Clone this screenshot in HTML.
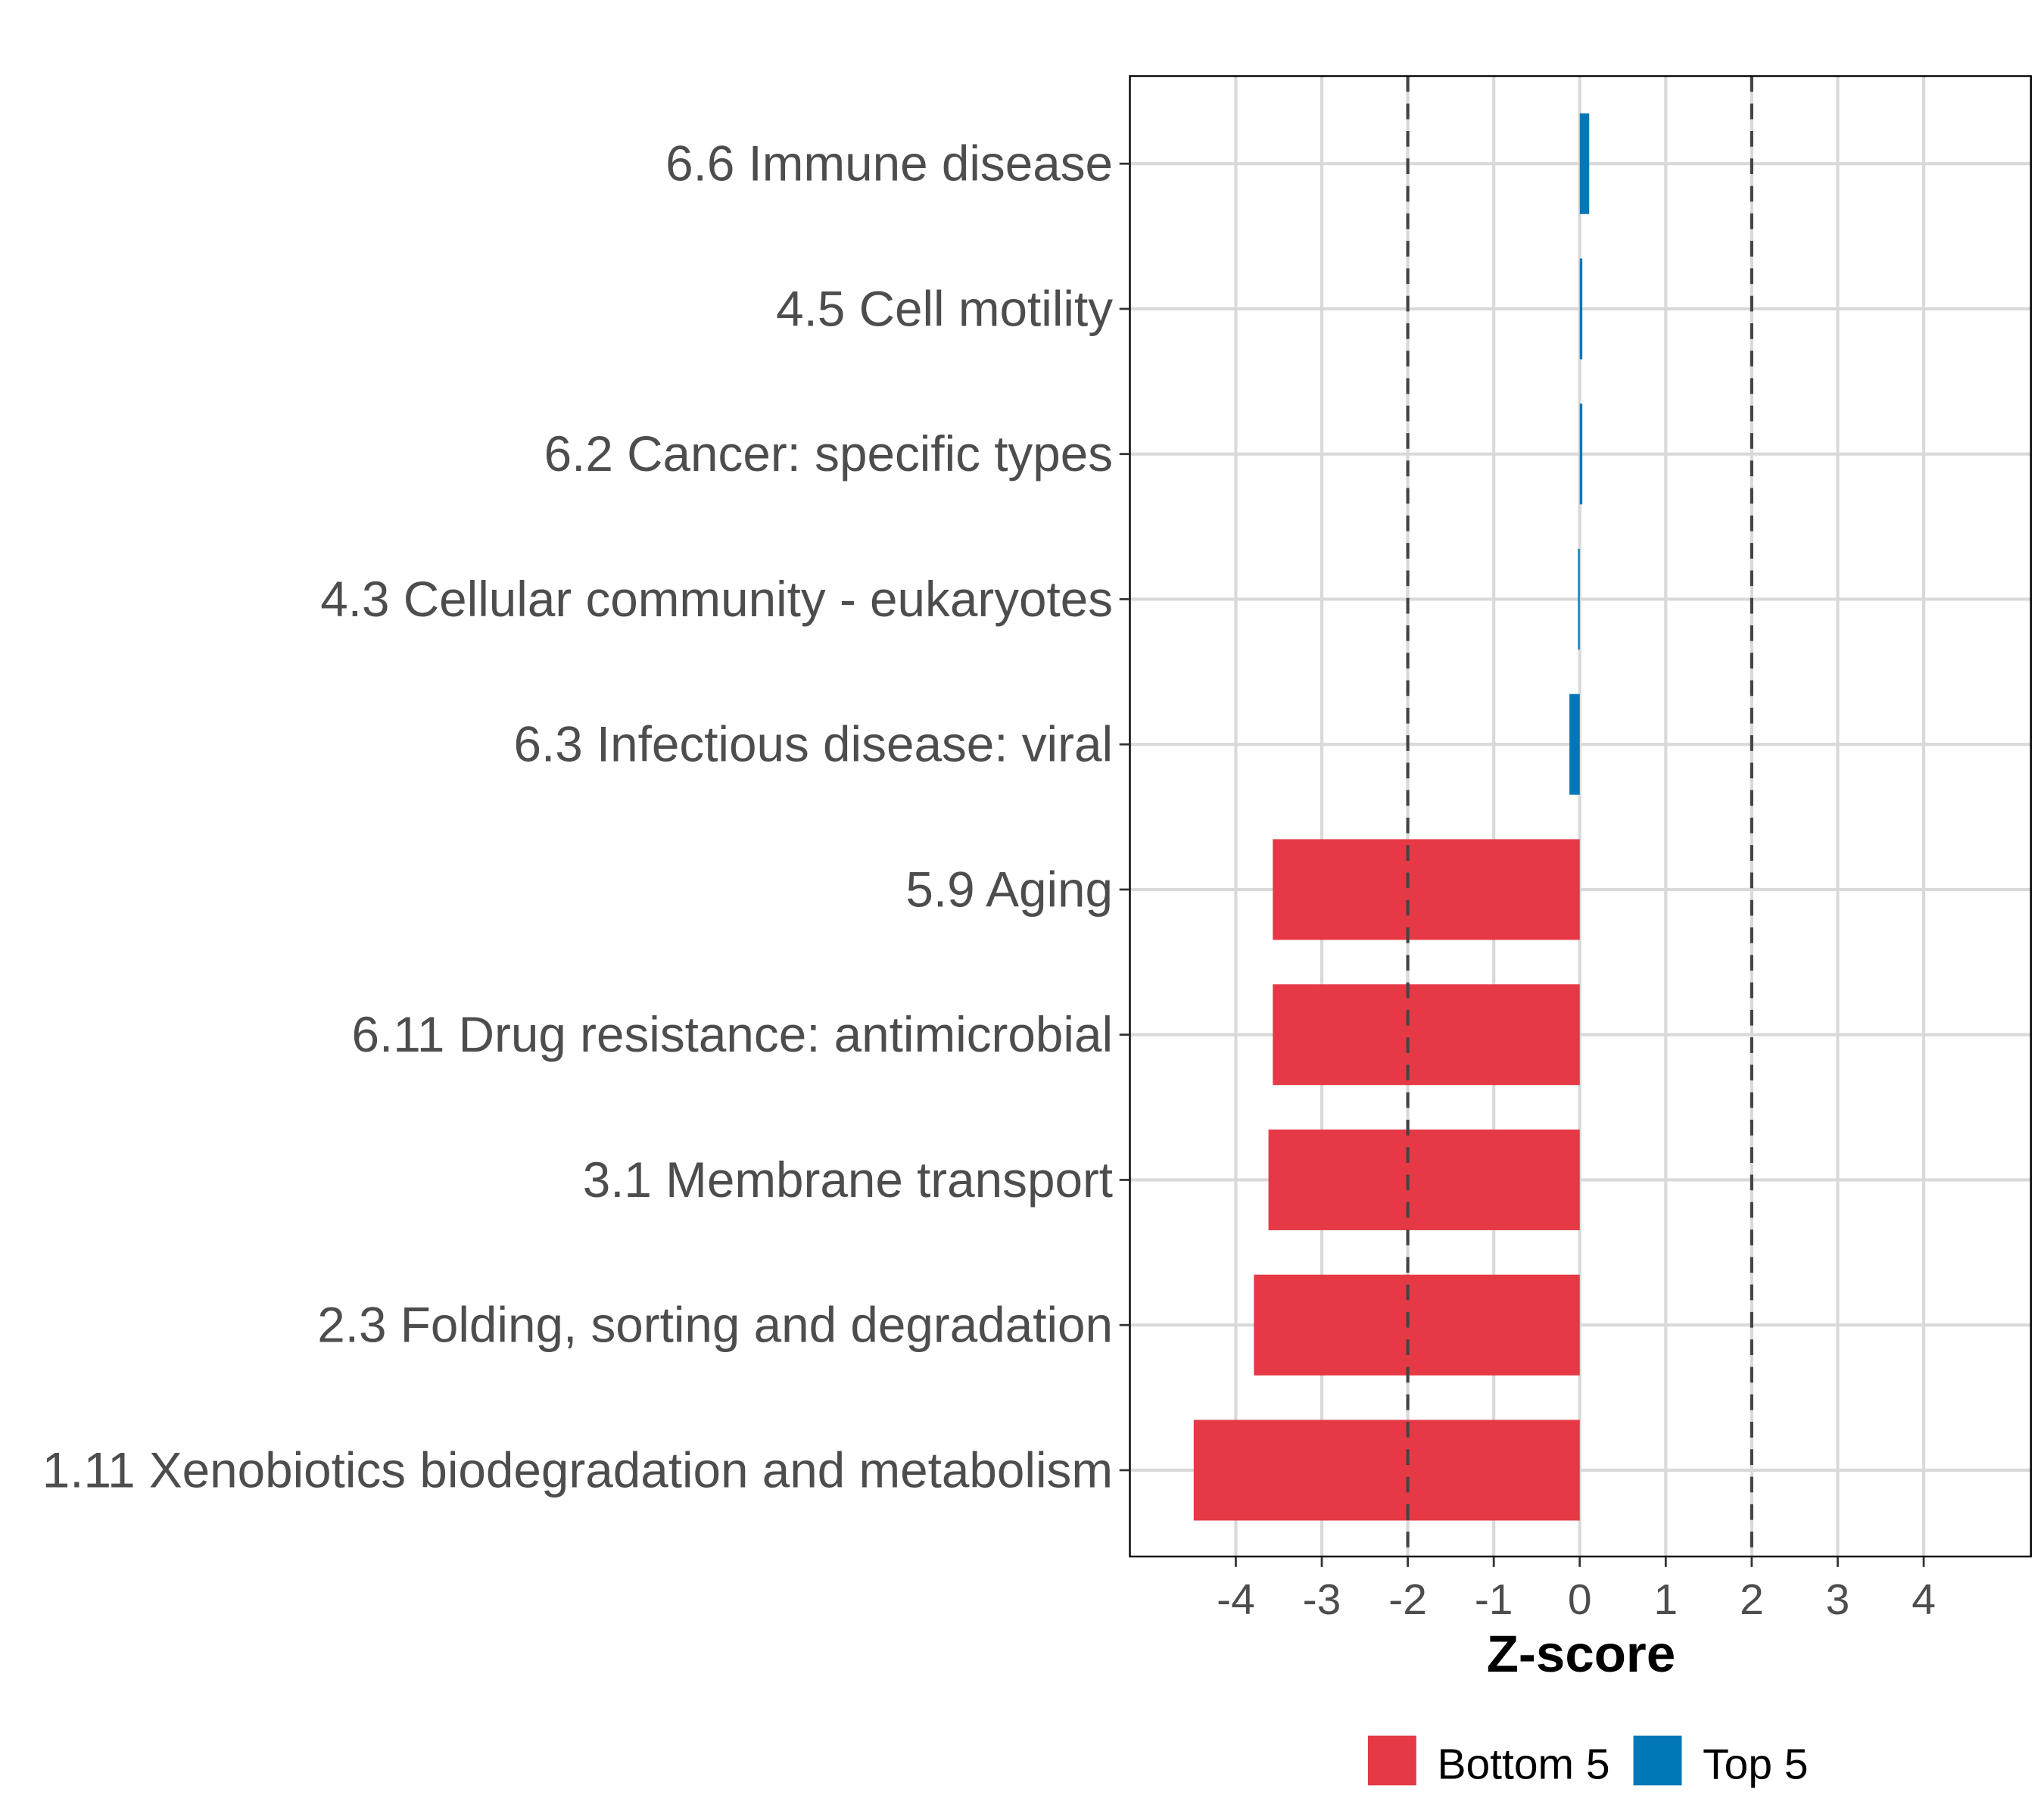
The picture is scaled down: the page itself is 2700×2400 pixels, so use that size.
<!DOCTYPE html>
<html><head><meta charset="utf-8">
<style>
html,body{margin:0;padding:0;background:#fff;}
svg{display:block;}
text{font-family:"Liberation Sans",Arial,sans-serif;}
</style></head>
<body>
<svg id="chart" width="2700" height="2400" viewBox="0 0 1563 1389" xmlns="http://www.w3.org/2000/svg">
<g id="grid"></g>
<g id="bars"></g>
<g id="refs"></g>
<g id="axes"></g>
<text x="1209" y="1278" text-anchor="middle" font-size="40" font-weight="bold" fill="#000">Z-score</text>
<g>
  <rect x="1046" y="1327" width="37" height="38" fill="#e63946"/>
  <text x="1099" y="1360" font-size="33" fill="#000">Bottom 5</text>
  <rect x="1249" y="1327" width="37" height="38" fill="#0077b6"/>
  <text x="1302" y="1360" font-size="33" fill="#000">Top 5</text>
</g>
</svg>
<script>
const categories = ["6.6 Immune disease","4.5 Cell motility","6.2 Cancer: specific types","4.3 Cellular community - eukaryotes","6.3 Infectious disease: viral","5.9 Aging","6.11 Drug resistance: antimicrobial","3.1 Membrane transport","2.3 Folding, sorting and degradation","1.11 Xenobiotics biodegradation and metabolism"];
const zscores = [0.11, 0.03, 0.03, -0.02, -0.12, -3.57, -3.57, -3.62, -3.79, -4.49];
const groups = ["Top 5","Top 5","Top 5","Top 5","Top 5","Bottom 5","Bottom 5","Bottom 5","Bottom 5","Bottom 5"];
const xTicks = [-4,-3,-2,-1,0,1,2,3,4];
const xTickLabels = ["-4","-3","-2","-1","0","1","2","3","4"];
const refLines = [-2, 2];

const NS="http://www.w3.org/2000/svg";
const P={l:864,r:1553,t:58,b:1190};
const X0=1208, UX=65.75;
const xs=v=>X0+v*UX;
const ROW0=125, ROWH=111;
const ys=i=>ROW0+i*ROWH;
const BARH=77;
const colors={"Top 5":"#0077b6","Bottom 5":"#e63946"};
function mk(tag,attrs,parent){const e=document.createElementNS(NS,tag);for(const k in attrs)e.setAttribute(k,attrs[k]);parent.appendChild(e);return e;}
const grid=document.getElementById('grid'),bars=document.getElementById('bars'),refs=document.getElementById('refs'),axes=document.getElementById('axes');
mk('rect',{x:P.l,y:P.t,width:P.r-P.l,height:P.b-P.t,fill:'#fff'},grid);
xTicks.forEach(v=>{
  const l=mk('line',{x1:xs(v),x2:xs(v),y1:P.t,y2:P.b,stroke:'#d9d9d9','stroke-width':2.4},grid);
  
  
});
categories.forEach((c,i)=>{
  const l=mk('line',{x1:P.l,x2:P.r,y1:ys(i),y2:ys(i),stroke:'#d9d9d9','stroke-width':2.4},grid);
  
  
});
categories.forEach((c,i)=>{
  const v=zscores[i];
  const r=mk('rect',{x:Math.min(xs(v),xs(0)),y:ys(i)-BARH/2,width:Math.abs(xs(v)-xs(0)),height:BARH,fill:colors[groups[i]]},bars);
  
  
});
refLines.forEach(v=>{
  const l=mk('line',{x1:xs(v),x2:xs(v),y1:P.t,y2:P.b,stroke:'#444','stroke-width':2.4,'stroke-dasharray':'12,9'},refs);
  
  
});
const frame=mk('rect',{x:P.l,y:P.t,width:P.r-P.l,height:P.b-P.t,fill:'none',stroke:'#000','stroke-width':1.4},axes);


xTicks.forEach((v,i)=>{
  const t=mk('line',{x1:xs(v),x2:xs(v),y1:P.b,y2:P.b+8,stroke:'#333','stroke-width':1.6},axes);
  
  
  const tx=mk('text',{x:xs(v),y:P.b+44,'text-anchor':'middle','font-size':33,fill:'#4d4d4d'},axes);
  tx.textContent=xTickLabels[i];
  
  
});
categories.forEach((c,i)=>{
  const t=mk('line',{x1:P.l-8,x2:P.l,y1:ys(i),y2:ys(i),stroke:'#333','stroke-width':1.6},axes);
  
  
  const tx=mk('text',{x:851,y:ys(i)+13,'text-anchor':'end','font-size':38,fill:'#4d4d4d'},axes);
  tx.textContent=c;
  
  
});
</script>
</body></html>
